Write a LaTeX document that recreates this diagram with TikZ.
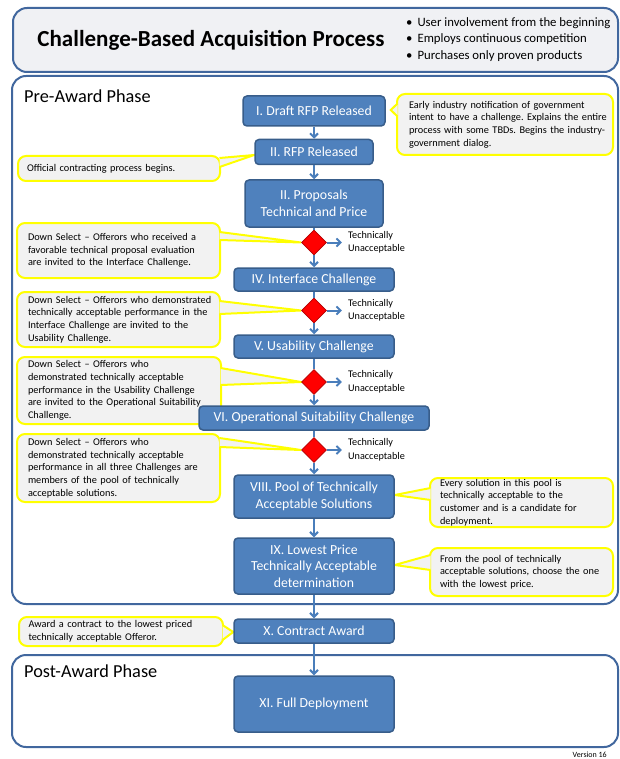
\documentclass[tikz,border=0pt]{standalone}
\usepackage{fontspec}
\setmainfont{Carlito}
\usepackage{xcolor}
\usepackage{tikz}
\usetikzlibrary{arrows.meta}
\usetikzlibrary{shapes.geometric}
\usetikzlibrary{positioning}
\definecolor{azul}{HTML}{4F81BD}
\definecolor{azulborda}{HTML}{385D8A}
\definecolor{moldura}{HTML}{41679E}
\definecolor{azulseta}{HTML}{4A7EBB}
\definecolor{cinza}{HTML}{F2F2F2}
\definecolor{cinzatitulo}{HTML}{F0F1F4}
\definecolor{amarelo}{HTML}{FFFF00}
\definecolor{vermelho}{HTML}{FF0000}
\pgfdeclarelayer{fundo}
\pgfsetlayers{fundo,main}
\tikzset{
  etapa/.style={draw=azulborda, fill=azul, line width=1.5pt, rounded corners=4pt, text=white, align=center, inner sep=2pt, font=\fontsize{13.8}{16.5}\selectfont},
  losango/.style={diamond, draw=red!70!black, fill=vermelho, line width=0.8pt, minimum width=25pt, minimum height=25pt, inner sep=0pt},
  balao/.style={draw=amarelo, fill=cinza, line width=2pt, rounded corners=8pt, align=left, inner ysep=0pt,
    font=\fontsize{10.3}{12.7}\selectfont\frenchspacing,
    execute at begin node={\rightskip=0pt plus 1fil minus 60pt\relax}},
  cunha/.style={draw=amarelo, fill=cinza, line width=2pt},
  fase/.style={draw=moldura, line width=2pt, rounded corners=14pt},
  rotulo/.style={align=left, inner xsep=6pt, inner ysep=0pt, font=\fontsize{10.2}{13.5}\selectfont},
  seta/.style={-{Straight Barb[length=4pt,width=8pt]}, draw=azulseta, line width=2pt},
  linha/.style={draw=azulseta, line width=2pt},
}

\begin{document}
\begin{tikzpicture}[x=1pt, y=-1pt]
  \useasboundingbox (0,0) rectangle (620,759);

  % fases
  \draw[fase, fill=cinzatitulo] (13,8) rectangle (618,72);
  \draw[fase] (12,76) rectangle (618,604);
  \draw[fase] (12,655) rectangle (618,747);

  \node[font=\bfseries\fontsize{23}{27}\selectfont] (titulo) at (211,40) {Challenge-Based Acquisition Process};
  \node[anchor=west, align=left, inner sep=0pt, font=\fontsize{12.75}{16.5}\selectfont] (lista) at (406,39.5)
    {\textbullet\hspace{5pt}User involvement from the beginning\\
     \textbullet\hspace{5pt}Employs continuous competition\\
     \textbullet\hspace{5pt}Purchases only proven products};
  \node[anchor=west, inner sep=0pt, font=\fontsize{18.3}{22}\selectfont] (pre) at (24,96) {Pre-Award Phase};
  \node[anchor=west, inner sep=0pt, font=\fontsize{18.3}{22}\selectfont] (pos) at (24,671) {Post-Award Phase};
  \node[anchor=east, inner sep=0pt, font=\fontsize{8}{9}\selectfont] (versao) at (607,755) {Version 16};

  % etapas
  \node[etapa, minimum width=142pt, minimum height=30pt] (draft) at (314,111) {I. Draft RFP Released};
  \node[etapa, minimum width=118pt, minimum height=25pt] (rfp) at (314,152) {II. RFP Released};
  \node[etapa, minimum width=138pt, minimum height=47pt] (prop) at (314,203.5) {II. Proposals\\Technical and Price};
  \node[losango] (d1) at (314,242.5) {};
  \node[etapa, minimum width=160pt, minimum height=23pt] (iface) at (314,279.5) {IV. Interface Challenge};
  \node[losango] (d2) at (314,310.5) {};
  \node[etapa, minimum width=160pt, minimum height=23pt] (usab) at (314,346.5) {V. Usability Challenge};
  \node[losango] (d3) at (314,382) {};
  \node[etapa, minimum width=230pt, minimum height=24pt] (ops) at (314,418) {VI. Operational Suitability Challenge};
  \node[losango] (d4) at (314,450) {};
  \node[etapa, minimum width=160pt, minimum height=43pt] (pool) at (314,496.5) {VIII. Pool of Technically\\Acceptable Solutions};
  \node[etapa, minimum width=160pt, minimum height=56pt] (lowest) at (314,566) {IX. Lowest Price\\Technically Acceptable\\determination};
  \node[etapa, minimum width=160pt, minimum height=24pt] (contract) at (314,631) {X. Contract Award};
  \node[etapa, minimum width=160pt, minimum height=56pt] (deploy) at (314,704) {XI. Full Deployment};

  \node[rotulo, right=15pt of d1] (tu1) {Technically\\Unacceptable};
  \node[rotulo, right=15pt of d2] (tu2) {Technically\\Unacceptable};
  \node[rotulo, right=15pt of d3] (tu3) {Technically\\Unacceptable};
  \node[rotulo, right=15pt of d4] (tu4) {Technically\\Unacceptable};

  \draw[seta] (draft) -- (rfp);
  \draw[seta] (rfp) -- (prop);
  \draw[linha] (prop) -- (d1);
  \draw[seta] (d1) -- (iface);
  \draw[linha] (iface) -- (d2);
  \draw[seta] (d2) -- (usab);
  \draw[linha] (usab) -- (d3);
  \draw[seta] (d3) -- (ops);
  \draw[linha] (ops) -- (d4);
  \draw[seta] (d4) -- (pool);
  \draw[seta] (pool) -- (lowest);
  \draw[seta] (lowest) -- (contract);
  \draw[seta] (contract) -- (deploy);
  \draw[seta] (d1) -- (d1 -| tu1.west);
  \draw[seta] (d2) -- (d2 -| tu2.west);
  \draw[seta] (d3) -- (d3 -| tu3.west);
  \draw[seta] (d4) -- (d4 -| tu4.west);

  % baloes
  \begin{pgfonlayer}{fundo}
  \node[balao, text width=192pt, inner xsep=12pt, minimum height=61pt] (c1) at (505,124.5)
    {Early industry notification of government\\intent to have a challenge. Explains the entire\\process with some TBDs. Begins the industry-\\government  dialog.};
  \draw[cunha] ([xshift=1.5pt,yshift=21pt]c1.west) -- ([xshift=5pt,yshift=1pt]draft.east) -- ([xshift=1.5pt,yshift=8pt]c1.west);
  \node[balao, text width=184pt, inner xsep=9pt, minimum height=25pt] (c2) at (119,168.5)
    {Official contracting process begins.};
  \draw[cunha] ([xshift=-1.5pt,yshift=10.5pt]c2.east) -- ([yshift=-3pt]rfp.west) -- ([xshift=-1.5pt,yshift=1.5pt]c2.east);
  \node[balao, text width=181pt, inner xsep=11pt, minimum height=55pt] (c3) at (118.5,250.5)
    {Down Select – Offerors who received a\\favorable technical proposal evaluation\\are invited to the Interface Challenge.};
  \draw[cunha] ([xshift=-1.5pt,yshift=18.5pt]c3.east) -- (d1.west) -- ([xshift=-1.5pt,yshift=10.5pt]c3.east);
  \node[balao, text width=181pt, inner xsep=11pt, minimum height=55pt] (c4) at (118.5,319.5)
    {Down Select – Offerors who demonstrated\\technically acceptable performance in the\\Interface Challenge are invited to the\\Usability Challenge.};
  \draw[cunha] ([xshift=-1.5pt,yshift=18.5pt]c4.east) -- (d2.west) -- ([xshift=-1.5pt,yshift=5.5pt]c4.east);
  \node[balao, text width=182pt, inner xsep=11pt, minimum height=67pt] (c5) at (119,390.5)
    {Down Select – Offerors who\\demonstrated technically acceptable\\performance in the Usability Challenge\\are invited to the Operational  Suitability\\Challenge.};
  \draw[cunha] ([xshift=-1.5pt,yshift=22.5pt]c5.east) -- (d3.west) -- ([xshift=-1.5pt,yshift=5.5pt]c5.east);
  \node[balao, text width=181pt, inner xsep=11pt, minimum height=68pt] (c6) at (118.5,468)
    {Down Select – Offerors who\\demonstrated technically acceptable\\performance in all three Challenges are\\members  of the pool of technically\\acceptable solutions.};
  \draw[cunha] ([xshift=-1.5pt,yshift=30pt]c6.east) -- (d4.west) -- ([xshift=-1.5pt,yshift=21pt]c6.east);
  \node[balao, text width=163pt, inner xsep=10pt, minimum height=49pt] (c7) at (521.5,502.5)
    {Every solution in this pool is\\technically acceptable to the\\customer and is a candidate for\\deployment.};
  \draw[cunha] ([xshift=1.5pt,yshift=14.5pt]c7.west) -- ([yshift=1.5pt]pool.east) -- ([xshift=1.5pt,yshift=2.5pt]c7.west);
  \node[balao, text width=163pt, inner xsep=10pt, minimum height=48pt] (c8) at (521.5,572)
    {From the pool of technically\\acceptable solutions, choose the one\\with the lowest price.};
  \draw[cunha] ([xshift=1.5pt,yshift=17pt]c8.west) -- ([yshift=1pt]lowest.east) -- ([xshift=1.5pt,yshift=2pt]c8.west);
  \node[balao, text width=185pt, inner xsep=9.5pt, minimum height=29pt] (c9) at (121,631.5)
    {Award  a contract to the lowest priced\\technically acceptable Offeror.};
  \draw[cunha] ([xshift=-1.5pt,yshift=6.5pt]c9.east) -- ([yshift=-1pt]contract.west) -- ([xshift=-1.5pt,yshift=-8.5pt]c9.east);
  \end{pgfonlayer}
\end{tikzpicture}
\end{document}
